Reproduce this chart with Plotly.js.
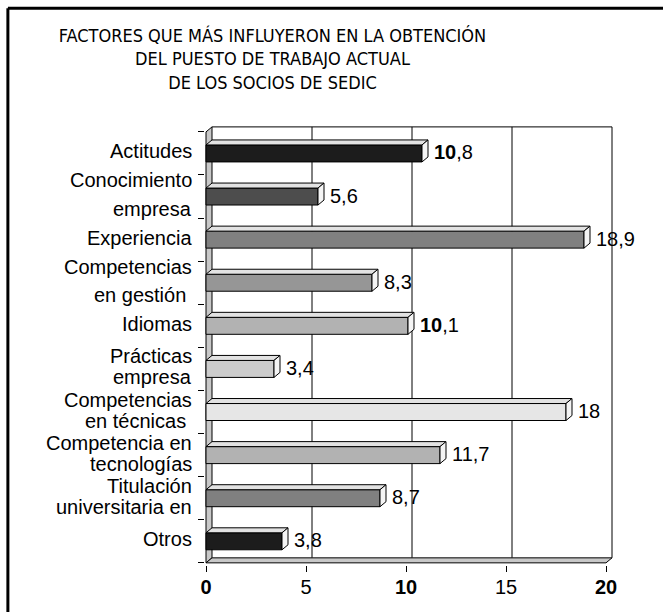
<!DOCTYPE html>
<html>
<head>
<meta charset="utf-8">
<script src="https://cdn.plot.ly/plotly-3.0.1.min.js"></script>
<style>html,body{margin:0;padding:0;background:#fff;}#chart{width:663px;height:612px;}</style>
</head>
<body>
<div id="chart"></div>
<script>
// ---- data ----
const categories = ['Actitudes', 'Conocimiento<br>empresa', 'Experiencia', 'Competencias<br>en gestión ', 'Idiomas',
  'Prácticas<br>empresa', 'Competencias<br>en técnicas ', 'Competencia en<br>tecnologías', 'Titulación<br>universitaria en', 'Otros'];
const values = [10.8, 5.6, 18.9, 8.3, 10.1, 3.4, 18, 11.7, 8.7, 3.8];
const xTickVals = [0, 5, 10, 15, 20];
const xTickText = ['<b>0</b>', '5', '<b>10</b>', '15', '<b>20</b>'];
const titleText = 'FACTORES QUE MÁS INFLUYERON EN LA OBTENCIÓN<br>DEL PUESTO DE TRABAJO ACTUAL<br>DE LOS SOCIOS DE SEDIC';

// ---- styles ----
const barColors = ['#1c1c1c', '#4d4d4d', '#808080', '#969696', '#b2b2b2', '#cccccc', '#e6e6e6', '#b2b2b2', '#808080', '#1c1c1c'];
const FONT = 'Liberation Sans, Arial, sans-serif';
const TITLE_FONT = 'Liberation Sans Narrow, DejaVu Sans Condensed, Arial Narrow, sans-serif';
const DX = 0.3;      // depth in x units
const DY = 0.116;    // depth in category units
const BW = 0.394;    // bar thickness
const lineGap = {1: 29, 3: 28};

const n = categories.length;
const yIdx = values.map((_, i) => i);

function fmt(v) {
  const s = String(v).replace('.', ',');
  const p = s.split(',');
  if (p[0] === '10') return '<b>10</b>' + (p.length > 1 ? ',' + p[1] : '');
  return s;
}

// top & side faces
const topX = [], topY = [], sideX = [], sideY = [];
values.forEach((v, i) => {
  const yt = i - BW / 2, yb = i + BW / 2;
  topX.push(0, v, v + DX, DX, 0, null);
  topY.push(yt, yt, yt - DY, yt - DY, yt, null);
  sideX.push(v, v + DX, v + DX, v, v, null);
  sideY.push(yt, yt - DY, yb - DY, yb, yt, null);
});

const traces = [
  {
    type: 'bar', orientation: 'h', x: values, y: yIdx, width: BW,
    marker: {color: barColors, line: {color: '#000', width: 1}},
    hoverinfo: 'x+y', showlegend: false
  },
  {
    type: 'scatter', mode: 'lines', x: topX, y: topY, fill: 'toself', fillcolor: '#e2e2e2',
    line: {color: '#000', width: 1}, hoverinfo: 'skip', showlegend: false
  },
  {
    type: 'scatter', mode: 'lines', x: sideX, y: sideY, fill: 'toself', fillcolor: '#f4f4f4',
    line: {color: '#000', width: 1}, hoverinfo: 'skip', showlegend: false
  }
];

const yTop = -0.5, yBot = n - 0.5;
const shapes = [];
// back wall grid lines and edges
[5, 10, 15, 20].forEach(g => {
  shapes.push({type: 'line', xref: 'x', yref: 'y', x0: g + DX, x1: g + DX, y0: yTop - DY, y1: yBot - DY,
    line: {color: '#000', width: 1}, layer: 'below'});
});
shapes.push({type: 'line', xref: 'x', yref: 'y', x0: DX, x1: 20 + DX, y0: yTop - DY, y1: yTop - DY,
  line: {color: '#000', width: 1}, layer: 'below'});
// left wall
shapes.push({type: 'path', xref: 'x', yref: 'y', layer: 'below',
  path: `M 0,${yTop} L ${DX},${yTop - DY} L ${DX},${yBot - DY} L 0,${yBot} Z`,
  fillcolor: '#c8c8c8', line: {color: '#000', width: 1}});
// floor
shapes.push({type: 'path', xref: 'x', yref: 'y', layer: 'below',
  path: `M 0,${yBot} L 20,${yBot} L ${20 + DX},${yBot - DY} L ${DX},${yBot - DY} Z`,
  fillcolor: '#c8c8c8', line: {color: '#000', width: 1}});
// outer frame (left + top)
shapes.push({type: 'line', xref: 'paper', yref: 'paper', x0: -0.4796, x1: -0.4796, y0: 1.2654, y1: -0.2,
  line: {color: '#000', width: 3}});
shapes.push({type: 'line', xref: 'paper', yref: 'paper', x0: -0.4796, x1: 1.3, y0: 1.2654, y1: 1.2654,
  line: {color: '#000', width: 3}});

const annotations = [];
categories.forEach((c, i) => {
  const lines = c.split('<br>');
  const gap = lineGap[i] || 21;
  lines.forEach((ln, k) => {
    annotations.push({
      xref: 'x', yref: 'y', x: 0, y: i, xanchor: 'right', yanchor: 'middle', xshift: -12,
      yshift: ((lines.length - 1) / 2 - k) * gap + 2,
      text: ln, showarrow: false, font: {family: FONT, size: 20, color: '#000'}
    });
  });
});
values.forEach((v, i) => {
  annotations.push({
    xref: 'x', yref: 'y', x: v + DX, y: i, xanchor: 'left', yanchor: 'middle', xshift: 4, yshift: 1,
    text: fmt(v), showarrow: false, font: {family: FONT, size: 20, color: '#000'}
  });
});

const layout = {
  width: 663, height: 612,
  margin: {l: 205, r: 47, t: 125, b: 47, pad: 0},
  paper_bgcolor: '#fff', plot_bgcolor: '#fff',
  showlegend: false,
  title: {text: titleText, x: 0.411, xanchor: 'center', xref: 'container', y: 1 - 42 / 612, yanchor: 'middle',
    font: {family: TITLE_FONT, size: 18, color: '#000'}},
  font: {family: FONT, size: 20, color: '#000'},
  xaxis: {range: [-0.05, 20.5], tickvals: xTickVals, ticktext: xTickText, ticks: 'outside', ticklen: 6,
    tickcolor: '#000', tickwidth: 1, showgrid: false, zeroline: false, showline: false, ticklabelstandoff: -2,
    tickfont: {family: FONT, size: 20, color: '#000'}, fixedrange: true},
  yaxis: {range: [9.55, -0.66], tickvals: yIdx.map(i => i - 0.5).concat([n - 0.5]), ticktext: yIdx.map(() => '').concat(['']),
    ticks: 'outside', ticklen: 6, tickcolor: '#000', tickwidth: 1, showticklabels: false,
    showgrid: false, zeroline: false, showline: false, fixedrange: true},
  shapes: shapes,
  annotations: annotations
};

Plotly.newPlot('chart', traces, layout, {displayModeBar: false, staticPlot: true});
</script>
</body>
</html>
